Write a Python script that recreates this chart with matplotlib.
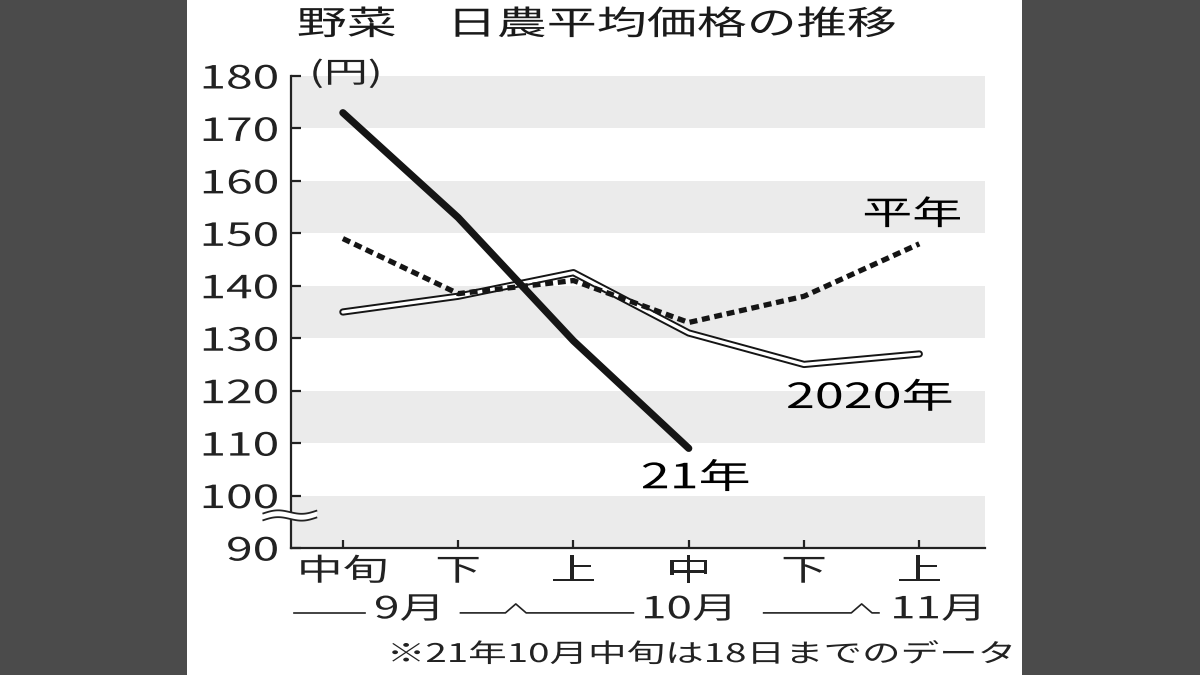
import numpy as np
import matplotlib.pyplot as plt
from matplotlib.patheffects import AbstractPathEffect
from matplotlib.transforms import Affine2D
from matplotlib.patches import Rectangle

plt.rcParams['font.family'] = ['Noto Sans CJK JP', 'DejaVu Sans']

# データ(円)
periods = ['中旬', '下', '上', '中', '下', '上']
price_21 = [173, 153, 129.5, 109]
price_2020 = [135, 138, 142.5, 131, 125, 127]
price_heinen = [149, 138.5, 141, 133, 138, 148]
yticks = list(range(90, 181, 10))
months = ['9月', '10月', '11月']
month_x = [0.57, 3.0, 5.16]
month_bounds = [1.5, 4.5]


class Stretch(AbstractPathEffect):
    # 元画像は横に引き伸ばされているので文字も横に伸ばす
    def __init__(self, sx=1.5, anchor='center'):
        super().__init__()
        self.sx = sx
        self.anchor = anchor

    def draw_path(self, renderer, gc, tpath, affine, rgbFace=None):
        ext = tpath.get_extents(affine)
        x0 = {'left': ext.x0, 'center': (ext.x0 + ext.x1) / 2, 'right': ext.x1}[self.anchor]
        t = affine + Affine2D().translate(-x0, 0).scale(self.sx, 1).translate(x0, 0)
        renderer.draw_path(gc, tpath, t, rgbFace)


def st(anchor='center'):
    return [Stretch(1.5, anchor)]


fig = plt.figure(figsize=(12, 6.75), dpi=100, facecolor='#4b4b4b')
fig.add_artist(Rectangle((187 / 1200, 0), 835 / 1200, 1, transform=fig.transFigure,
                         facecolor='white', edgecolor='none', zorder=0))
ax = fig.add_axes([291 / 1200, 127 / 675, 694 / 1200, 472 / 675])
ax.set_facecolor('none')

# 縞模様の背景
for lo in yticks[::2]:
    ax.axhspan(lo, lo + 10, color='#ebebeb', lw=0, zorder=0)

x = np.arange(len(periods))
ax.plot(x, price_2020, color='#151515', lw=5.2, solid_capstyle='round', zorder=3)
ax.plot(x, price_2020, color='white', lw=2.4, solid_capstyle='round', zorder=3.1)
ax.plot(x, price_heinen, color='#151515', lw=3.8, ls=(0, (1.5, 0.9)),
        dash_capstyle='butt', zorder=4)
ax.plot(x[:len(price_21)], price_21, color='#151515', lw=5.2,
        solid_capstyle='round', zorder=5)

ax.set_xlim(-0.45, 5.57)
ax.set_ylim(90, 180)
for s in ['top', 'right']:
    ax.spines[s].set_visible(False)
for s in ['left', 'bottom']:
    ax.spines[s].set_linewidth(1.6)
    ax.spines[s].set_color('#222222')

ax.set_yticks(yticks)
ax.set_yticklabels([str(v) for v in yticks], fontsize=23, color='#222222',
                   path_effects=st('right'))
ax.set_xticks(x)
ax.set_xticklabels(periods, fontsize=22, color='#222222', path_effects=st('center'))
ax.tick_params(axis='y', direction='in', length=7, width=1.6, pad=9, colors='#222222')
ax.tick_params(axis='x', direction='in', length=6, width=1.6, pad=6, colors='#222222')

# 軸の省略記号
t = np.linspace(0, 1, 60)
wx = -0.69 + 0.46 * t
wave = 0.45 * np.sin(2 * np.pi * t) + 0.5 * t
up = 96.6 + wave
dn = 95.3 + wave
ax.fill_between(wx, dn, up, color='white', lw=0, clip_on=False, zorder=6)
ax.plot(wx, up, color='#222222', lw=1.3, clip_on=False, zorder=7)
ax.plot(wx, dn, color='#222222', lw=1.3, clip_on=False, zorder=7)

ax.text(-0.28, 180.3, '(円)', fontsize=21, ha='left', va='center', color='#222222',
        path_effects=st('left'))

# 系列ラベル
ax.text(4.94, 153.5, '平年', fontsize=24, ha='center', va='center', path_effects=st())
ax.text(4.57, 118.5, '2020年', fontsize=25, ha='center', va='center', path_effects=st())
ax.text(3.06, 103.2, '21年', fontsize=25, ha='center', va='center', path_effects=st())

# 月の行
tr = ax.get_xaxis_transform()
ly, lh, cw = -0.1375, 0.019, 0.09
segments = [(-0.42, 0.19), (1.02, 2.52), (3.65, 4.65)]
for a, c in segments:
    xs, ys = [a], [ly]
    for b in month_bounds:
        if a < b < c:
            xs += [b - cw, b, b + cw]
            ys += [ly, ly + lh, ly]
    xs.append(c)
    ys.append(ly)
    ax.plot(xs, ys, color='#222222', lw=1.2, transform=tr, clip_on=False)
for m, mx in zip(months, month_x):
    ax.text(mx, -0.131, m, fontsize=22, ha='center', va='center', transform=tr,
            color='#222222', path_effects=st())

fig.text(0.4975, 0.963, '野菜　日農平均価格の推移', fontsize=24, ha='center', va='center',
         color='#1a1a1a', path_effects=st())
fig.text(1015 / 1200, 20 / 675, '※21年10月中旬は18日までのデータ', fontsize=18.5,
         ha='right', va='center', color='#222222', path_effects=st('right'))

fig.savefig('out.png', dpi=100, facecolor=fig.get_facecolor())
